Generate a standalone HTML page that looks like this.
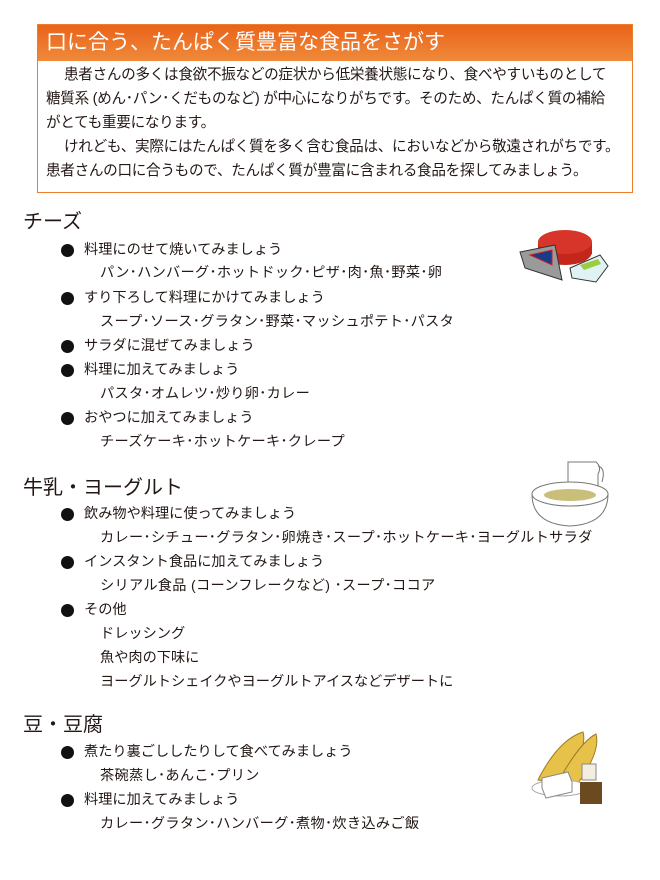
<!DOCTYPE html>
<html><head><meta charset="utf-8"><style>
body{margin:0;width:660px;height:880px;background:#fff;position:relative;overflow:hidden;font-family:"Liberation Sans","Noto Sans CJK JP",sans-serif;color:#231815}
.a{position:absolute;white-space:nowrap;line-height:20px}
.box{position:absolute;left:37px;top:24px;width:594px;height:167px;border:1.5px solid #ee7d2c;background:#fff}
.hd{position:absolute;left:0;top:0;width:594px;height:36px;background:linear-gradient(#e8631a,#f08a3a);color:#fff;font-size:21px;line-height:36px;padding-left:8px;box-sizing:border-box}
.p{font-size:14.6px;letter-spacing:-0.3px}
.h{font-size:20px}
.t{font-size:14.2px}
.s{letter-spacing:0.3px}
.b{position:absolute;width:13px;height:13px;border-radius:50%;background:#111}
</style></head><body>
<div class="box"><div class="hd">口に合う、たんぱく質豊富な食品をさがす</div></div>
<div class="a p" style="left:64px;top:65px">患者さんの多くは食欲不振などの症状から低栄養状態になり、食べやすいものとして</div>
<div class="a p" style="left:46px;top:89px">糖質系 (めん･パン･くだものなど) が中心になりがちです。そのため、たんぱく質の補給</div>
<div class="a p" style="left:46px;top:113px">がとても重要になります。</div>
<div class="a p" style="left:64px;top:137px">けれども、実際にはたんぱく質を多く含む食品は、においなどから敬遠されがちです。</div>
<div class="a p" style="left:46px;top:161px">患者さんの口に合うもので、たんぱく質が豊富に含まれる食品を探してみましょう。</div>

<div class="a h" style="left:23px;top:212px">チーズ</div>
<div class="b" style="left:61px;top:244px"></div><div class="a t" style="left:84px;top:240px">料理にのせて焼いてみましょう</div>
<div class="a t s" style="left:100px;top:263px">パン･ハンバーグ･ホットドック･ピザ･肉･魚･野菜･卵</div>
<div class="b" style="left:61px;top:292px"></div><div class="a t" style="left:84px;top:288px">すり下ろして料理にかけてみましょう</div>
<div class="a t s" style="left:100px;top:312px">スープ･ソース･グラタン･野菜･マッシュポテト･パスタ</div>
<div class="b" style="left:61px;top:340px"></div><div class="a t" style="left:84px;top:336px">サラダに混ぜてみましょう</div>
<div class="b" style="left:61px;top:364px"></div><div class="a t" style="left:84px;top:360px">料理に加えてみましょう</div>
<div class="a t s" style="left:100px;top:384px">パスタ･オムレツ･炒り卵･カレー</div>
<div class="b" style="left:61px;top:412px"></div><div class="a t" style="left:84px;top:408px">おやつに加えてみましょう</div>
<div class="a t s" style="left:100px;top:432px">チーズケーキ･ホットケーキ･クレープ</div>

<div class="a h" style="left:23px;top:478px">牛乳・ヨーグルト</div>
<div class="b" style="left:61px;top:508px"></div><div class="a t" style="left:84px;top:504px">飲み物や料理に使ってみましょう</div>
<div class="a t s" style="left:100px;top:528px">カレー･シチュー･グラタン･卵焼き･スープ･ホットケーキ･ヨーグルトサラダ</div>
<div class="b" style="left:61px;top:556px"></div><div class="a t" style="left:84px;top:552px">インスタント食品に加えてみましょう</div>
<div class="a t s" style="left:100px;top:576px">シリアル食品 (コーンフレークなど) ･スープ･ココア</div>
<div class="b" style="left:61px;top:604px"></div><div class="a t" style="left:84px;top:600px">その他</div>
<div class="a t" style="left:100px;top:624px">ドレッシング</div>
<div class="a t" style="left:100px;top:648px">魚や肉の下味に</div>
<div class="a t" style="left:100px;top:672px">ヨーグルトシェイクやヨーグルトアイスなどデザートに</div>

<div class="a h" style="left:23px;top:715px">豆・豆腐</div>
<div class="b" style="left:61px;top:746px"></div><div class="a t" style="left:84px;top:742px">煮たり裏ごししたりして食べてみましょう</div>
<div class="a t s" style="left:100px;top:766px">茶碗蒸し･あんこ･プリン</div>
<div class="b" style="left:61px;top:794px"></div><div class="a t" style="left:84px;top:790px">料理に加えてみましょう</div>
<div class="a t s" style="left:100px;top:814px">カレー･グラタン･ハンバーグ･煮物･炊き込みご飯</div>

<svg style="position:absolute;left:500px;top:210px" width="160" height="100">
<ellipse cx="65" cy="42" rx="27" ry="13" fill="#c4261c"/><rect x="38" y="32" width="54" height="12" fill="#c4261c"/><ellipse cx="65" cy="32" rx="27" ry="12" fill="#d8352a"/>
<polygon points="20,42 55,35 62,70 25,58" fill="#9a9a9a" stroke="#333"/><polygon points="30,45 52,40 52,55" fill="#1a3b8a" stroke="#c22"/>
<polygon points="70,58 100,45 108,56 96,72 72,68" fill="#dff2f4" stroke="#333"/><polygon points="80,55 98,49 101,54 84,60" fill="#9ccc40"/>
</svg>
<svg style="position:absolute;left:520px;top:450px" width="100" height="80" fill="none" stroke="#777">
<path d="M48 12 h28 q6 5 2 12 v20 q-3 6 -12 6 h-14 q-6 -4 -4 -12 z"/><path d="M78 16 q8 2 4 16"/>
<path d="M12 44 q0 30 38 32 q38 -2 38 -32 z" fill="#fff"/><ellipse cx="50" cy="44" rx="38" ry="12" fill="#fff"/>
<ellipse cx="50" cy="45" rx="26" ry="6" fill="#c9bf7a" stroke="none"/>
</svg>
<svg style="position:absolute;left:520px;top:720px" width="100" height="100">
<path d="M18 60 q20 -40 45 -48 q5 15 -20 52 z" fill="#e6c24a" stroke="#a07a20"/>
<path d="M38 62 q22 -40 38 -48 q5 18 -20 52 z" fill="#e6c24a" stroke="#a07a20"/>
<ellipse cx="40" cy="68" rx="28" ry="8" fill="#fff" stroke="#aaa"/>
<polygon points="22,58 48,52 52,62 52,72 26,78 22,68" fill="#fff" stroke="#888"/>
<rect x="62" y="44" width="14" height="16" fill="#f3eee0" stroke="#888"/>
<rect x="60" y="62" width="22" height="22" fill="#6b4a20"/>
</svg>
</body></html>
